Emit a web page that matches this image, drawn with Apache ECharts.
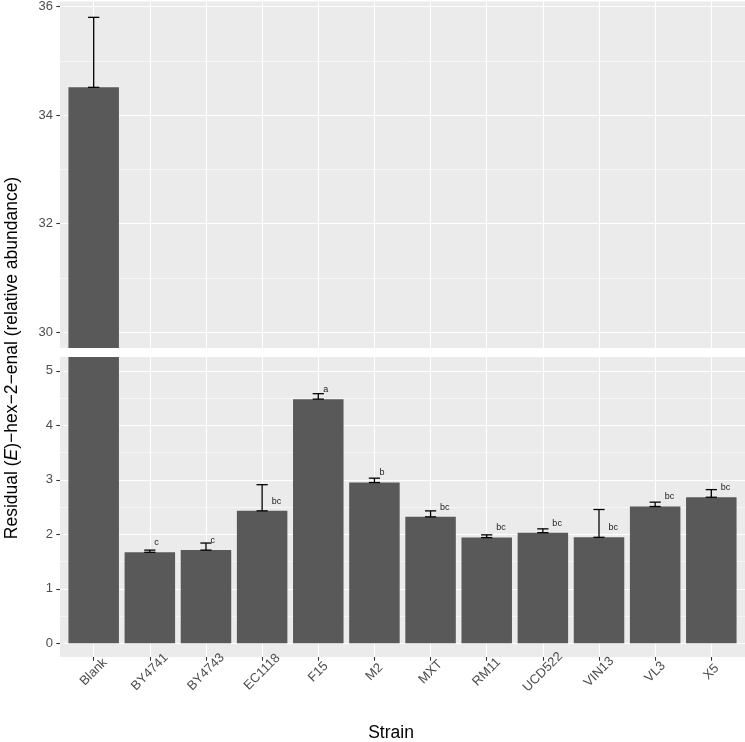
<!DOCTYPE html>
<html>
<head>
<meta charset="utf-8">
<script src="https://cdn.jsdelivr.net/npm/echarts@6/dist/echarts.min.js"></script>
<style>
html,body{margin:0;padding:0;background:#fff;}
#chart{width:745px;height:742px;}
</style>
</head>
<body>
<div id="chart"></div>
<script>
// ---- data ----
const categories = ['Blank','BY4741','BY4743','EC1118','F15','M2','MXT','RM11','UCD522','VIN13','VL3','X5'];
const means  = [34.51, 1.67, 1.71, 2.43, 4.48, 2.95, 2.32, 1.94, 2.03, 1.945, 2.51, 2.68];
const errors = [1.29, 0.04, 0.13, 0.48, 0.10, 0.08, 0.11, 0.05, 0.07, 0.51, 0.08, 0.14];
const letters = ['', 'c', 'c', 'bc', 'a', 'b', 'bc', 'bc', 'bc', 'bc', 'bc', 'bc'];
const topTicks = [30, 32, 34, 36];
const topMinor = [31, 33, 35];
const bottomTicks = [0, 1, 2, 3, 4, 5];
const bottomMinor = [0.5, 1.5, 2.5, 3.5, 4.5];
const topRange = [29.706, 36.092];
const bottomRange = [-0.251, 5.253];

const FONT = '"Liberation Sans", Arial, Helvetica, sans-serif';
const catIdx = categories.map((c, i) => i);
const barData = means.map((v, i) => [i, v]);
const errData = means.map((v, i) => [i, v, v + errors[i]]);

const ctx = document.createElement('canvas').getContext('2d');
ctx.font = '9px ' + FONT;
function textW(s) { return ctx.measureText(s).width; }

function xAxisDef(gridIndex, showLabels) {
  return {
    type: 'value', gridIndex: gridIndex, min: -0.6, max: 11.6, position: 'bottom',
    axisLine: { show: false, onZero: false },
    axisTick: { show: showLabels, customValues: catIdx, length: 3.7, lineStyle: { color: '#333333', width: 1.1 } },
    axisLabel: {
      show: showLabels, customValues: catIdx, rotate: 45, align: 'center', verticalAlign: 'middle',
      margin: 15, color: '#4D4D4D', fontSize: 13, fontFamily: FONT,
      formatter: v => categories[Math.round(v)] || ''
    },
    splitLine: { show: true, lineStyle: { color: '#FFFFFF', width: 1.1 } }
  };
}
function yAxisDef(gridIndex, range, ticks, major) {
  return {
    type: 'value', gridIndex: gridIndex, min: range[0], max: range[1], position: 'left',
    axisLine: { show: false, onZero: false },
    axisTick: { show: major, customValues: ticks, length: 3.7, lineStyle: { color: '#333333', width: 1.1 } },
    axisLabel: { show: major, customValues: ticks, margin: 7, color: '#4D4D4D', fontSize: 13, fontFamily: FONT },
    splitLine: { show: true, lineStyle: { color: '#FFFFFF', width: major ? 1.1 : 0.55 } }
  };
}

function errRender(params, api) {
  const i = api.value(0), lo = api.value(1), hi = api.value(2);
  const ext = params.coordSys;
  const yTop = ext.y, yBot = ext.y + ext.height;
  const yAx = params.coordSys;
  const pLo = api.coord([i, lo]);
  const pHi = api.coord([i, hi]);
  if (!(pLo[1] > yTop + 0.5 && pLo[1] < yBot - 0.5) && !(pHi[1] > yTop + 0.5 && pHi[1] < yBot - 0.5)) return null;
  const half = api.size([0.1, 0])[0];
  const ls = { stroke: '#000000', lineWidth: 1.3 };
  return {
    type: 'group',
    children: [
      { type: 'line', shape: { x1: pLo[0], y1: pLo[1], x2: pHi[0], y2: pHi[1] }, style: ls },
      { type: 'line', shape: { x1: pHi[0] - half, y1: pHi[1], x2: pHi[0] + half, y2: pHi[1] }, style: ls },
      { type: 'line', shape: { x1: pLo[0] - half, y1: pLo[1], x2: pLo[0] + half, y2: pLo[1] }, style: ls }
    ]
  };
}
function letterRender(params, api) {
  const idx = params.dataIndex;
  const s = letters[idx];
  if (!s) return null;
  const p = api.coord([api.value(0), api.value(1)]);
  const ext = params.coordSys;
  if (p[1] <= ext.y || p[1] >= ext.y + ext.height) return null;
  return {
    type: 'text', x: p[0] + textW(s), y: p[1] - 9.6,
    style: { text: s, font: '9px ' + FONT, fill: '#1A1A1A', align: 'left', verticalAlign: 'middle' }
  };
}

const chart = echarts.init(document.getElementById('chart'), null, { renderer: 'canvas' });
chart.setOption({
  animation: false,
  backgroundColor: '#FFFFFF',
  grid: [
    { left: 60, right: 0, top: 0, height: 348, show: true, backgroundColor: '#EBEBEB', borderWidth: 0, containLabel: false },
    { left: 60, right: 0, top: 357, height: 300, show: true, backgroundColor: '#EBEBEB', borderWidth: 0, containLabel: false }
  ],
  xAxis: [xAxisDef(0, false), xAxisDef(1, true)],
  yAxis: [
    yAxisDef(0, topRange, topTicks, true),
    yAxisDef(0, topRange, topMinor, false),
    yAxisDef(1, bottomRange, bottomTicks, true),
    yAxisDef(1, bottomRange, bottomMinor, false)
  ],
  series: [
    { type: 'bar', xAxisIndex: 0, yAxisIndex: 0, data: barData, barWidth: 50.5, clip: true,
      itemStyle: { color: '#595959' }, z: 2, silent: true },
    { type: 'bar', xAxisIndex: 1, yAxisIndex: 2, data: barData, barWidth: 50.5, clip: true,
      itemStyle: { color: '#595959' }, z: 2, silent: true },
    { type: 'custom', xAxisIndex: 0, yAxisIndex: 0, data: errData, renderItem: errRender, z: 3, silent: true,
      encode: { x: 0, y: [1, 2] } },
    { type: 'custom', xAxisIndex: 1, yAxisIndex: 2, data: errData, renderItem: errRender, z: 3, silent: true,
      encode: { x: 0, y: [1, 2] } },
    { type: 'custom', xAxisIndex: 1, yAxisIndex: 2, data: barData, renderItem: letterRender, z: 4, silent: true,
      encode: { x: 0, y: 1 } }
  ],
  graphic: [
    { type: 'text', x: 391, y: 733, style: { text: 'Strain', font: '17.5px ' + FONT, fill: '#000000', align: 'center', verticalAlign: 'middle' } },
    { type: 'text', x: 12, y: 358, rotation: Math.PI / 2,
      style: {
        text: '{n|Residual (}{i|E}{n|)\u2212hex\u22122\u2212enal (relative abundance)}',
        align: 'center', verticalAlign: 'middle',
        rich: {
          n: { font: '17.5px ' + FONT, fill: '#000000' },
          i: { font: 'italic 17.5px ' + FONT, fill: '#000000' }
        }
      } }
  ]
});
</script>
</body>
</html>
